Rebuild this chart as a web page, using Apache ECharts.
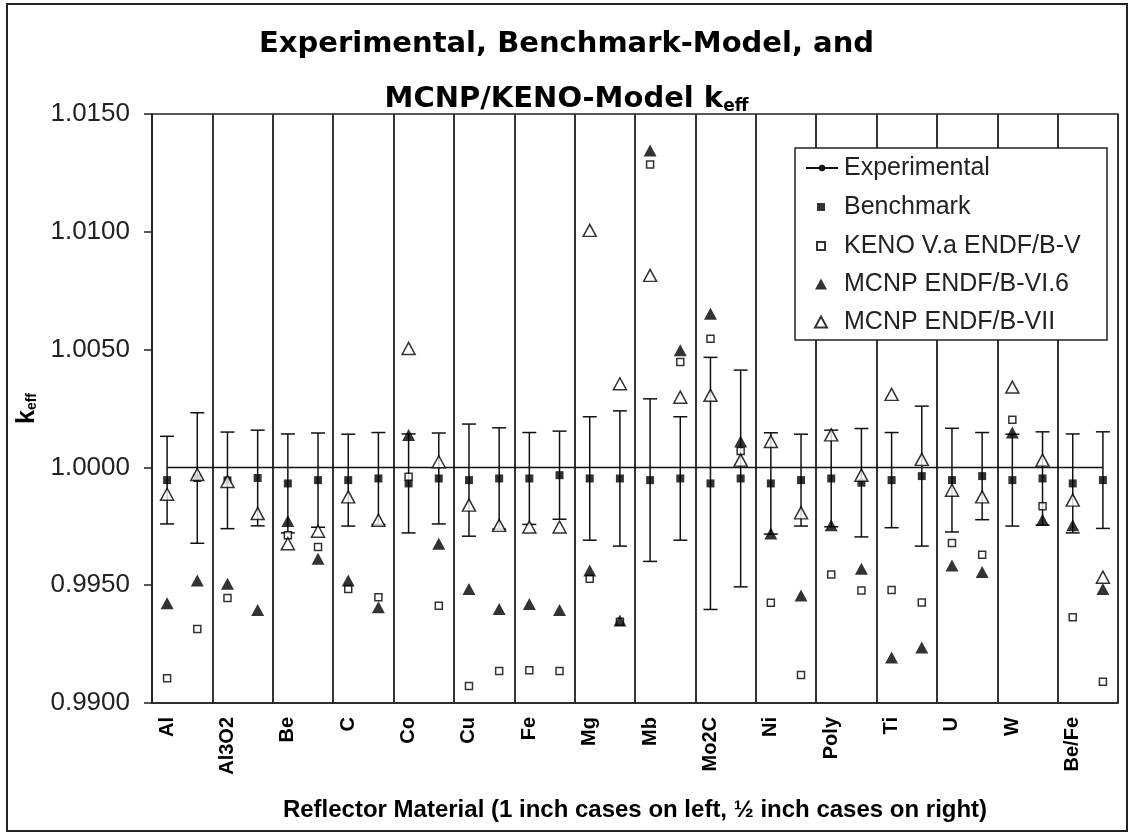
<!DOCTYPE html>
<html>
<head>
<meta charset="utf-8">
<script src="https://cdn.jsdelivr.net/npm/echarts@6/dist/echarts.min.js"></script>
<style>
  html, body { margin: 0; padding: 0; background: #fff; }
  #chart { width: 1133px; height: 836px; }
</style>
</head>
<body>
<div id="chart"></div>
<script>
/** 材料（每种两个算例：左 1 inch，右 ½ inch） */
const materials = ["Al", "Al3O2", "Be", "C", "Co", "Cu", "Fe", "Mg", "Mb", "Mo2C", "Ni", "Poly", "Ti", "U", "W", "Be/Fe"]

/** 32 个算例的 keff */
const experimental = [1, 1, 1, 1, 1, 1, 1, 1, 1, 1, 1, 1, 1, 1, 1, 1,
    1, 1, 1, 1, 1, 1, 1, 1, 1, 1, 1, 1, 1, 1, 1, 1]
const benchmark = [0.99946, 0.99955, 0.99945, 0.99955, 0.99932, 0.99946, 0.99946, 0.99953,
    0.99932, 0.99953, 0.99946, 0.99953, 0.99953, 0.99967, 0.99953, 0.99953,
    0.99946, 0.99953, 0.99932, 0.99953, 0.99932, 0.99946, 0.99953, 0.99935,
    0.99946, 0.99963, 0.99946, 0.99963, 0.99946, 0.99953, 0.99932, 0.99946]
const benchmarkErr = [0.00186, 0.00277, 0.00205, 0.00203, 0.00210, 0.00200, 0.00195, 0.00195,
    0.00210, 0.00193, 0.00238, 0.00215, 0.00195, 0.00187, 0.00262, 0.00287,
    0.00345, 0.00262, 0.00535, 0.00460, 0.00215, 0.00195, 0.00205, 0.00230,
    0.00202, 0.00297, 0.00220, 0.00185, 0.00195, 0.00198, 0.00210, 0.00205]
const keno = [0.99105, 0.99314, 0.99446, null, 0.99712, 0.99662, 0.99484, 0.99449,
    0.9996, 0.99413, 0.99072, 0.99136, 0.99139, 0.99136, 0.99527, 0.99345,
    1.01286, 1.00447, 1.00546, 1.0007, 0.99425, 0.99119, 0.99545, 0.99478,
    0.9948, 0.99427, 0.99679, 0.99629, 1.00202, 0.99835, 0.99364, 0.9909]
const mcnp6 = [0.99423, 0.9952, 0.99506, 0.99395, 0.99773, 0.99612, 0.9952, 0.99406,
    1.00138, 0.99676, 0.99484, 0.99399, 0.9942, 0.99395, 0.99562, 0.9935,
    1.01345, 1.00497, 1.00652, 1.0011, 0.99719, 0.99456, 0.99754, 0.9957,
    0.99193, 0.99236, 0.99584, 0.99556, 1.00148, 0.99778, 0.99754, 0.99484]
const mcnp7 = [0.99886, 0.9997, 0.9994, 0.99804, 0.99676, 0.99729, 0.99875, 0.99776,
    1.00505, 1.00024, 0.9984, 0.99754, 0.99747, 0.99747, 1.01006, 1.00355,
    1.00815, 1.00298, 1.00306, 1.00031, 1.0011, 0.99807, 1.00138, 0.99967,
    1.0031, 1.00034, 0.99903, 0.99875, 1.00341, 1.00031, 0.99861, 0.99534]

/** y 轴刻度 */
const yMin = 0.99, yMax = 1.015, yStep = 0.005

const FONT = "Liberation Sans"

// 每种材料只在第一个算例下标注
let cases = []
materials.forEach(m => { cases.push(m); cases.push("") })

let errData = benchmark.map((v, i) => [i, v, benchmarkErr[i]])

/** 误差棒：竖线 + 上下短横 */
function renderErrBar(params, api) {
    let x = api.value(0)
    let y = api.value(1)
    let e = api.value(2)
    let top = api.coord([x, y + e])
    let bot = api.coord([x, y - e])
    let cap = 7
    let style = { stroke: "#111", lineWidth: 1.5 }
    return {
        type: "group",
        children: [
            { type: "line", shape: { x1: top[0], y1: top[1], x2: bot[0], y2: bot[1] }, style: style },
            { type: "line", shape: { x1: top[0] - cap, y1: top[1], x2: top[0] + cap, y2: top[1] }, style: style },
            { type: "line", shape: { x1: bot[0] - cap, y1: bot[1], x2: bot[0] + cap, y2: bot[1] }, style: style }
        ]
    }
}

/** 图例（分成三组，方便控制图标大小） */
function legendGroup(names, top, left, w, h, gap, pad) {
    return {
        orient: "vertical",
        left: left,
        top: top,
        z: 30,
        padding: 0,
        itemGap: gap,
        itemWidth: w,
        itemHeight: h,
        textStyle: { fontFamily: FONT, fontSize: 25, color: "#222", lineHeight: 28, padding: [0, 0, 0, pad] },
        data: names
    }
}

let chart = echarts.init(document.getElementById("chart"))

let option = {
    backgroundColor: "#fff",
    animation: false,
    title: {
        left: "center",
        top: 12,
        text: "{t|Experimental, Benchmark-Model, and}\n{t|MCNP/KENO-Model k}{s|eff}",
        textStyle: {
            rich: {
                t: { fontFamily: "DejaVu Sans", fontWeight: "bold", fontSize: 29, color: "#000", lineHeight: 55 },
                s: { fontFamily: "DejaVu Sans", fontWeight: "bold", fontSize: 17, color: "#000", verticalAlign: "middle", padding: [14, 0, 0, 0] }
            }
        }
    },
    legend: [
        legendGroup(["Experimental"], 154, 805, 32, 8, 10, 1),
        legendGroup(["Benchmark", "KENO V.a ENDF/B-V"], 193, 816, 8, 8, 11, 14),
        legendGroup(["MCNP ENDF/B-VI.6", "MCNP ENDF/B-VII"], 270, 814, 12, 11, 10, 12)
    ],
    grid: {
        left: 152,
        right: 15,
        top: 114,
        bottom: 133,
        show: true,
        borderColor: "#222",
        borderWidth: 1.5
    },
    xAxis: {
        type: "category",
        data: cases,
        boundaryGap: true,
        axisLine: { lineStyle: { color: "#222", width: 1.5 } },
        axisTick: { interval: i => i % 2 === 0, length: 6, lineStyle: { color: "#222", width: 1.5 } },
        splitLine: { show: true, interval: i => i % 2 === 0, lineStyle: { color: "#333", width: 2 } },
        axisLabel: {
            interval: 0, rotate: 90, margin: 14,
            fontFamily: FONT, fontWeight: "bold", fontSize: 20, color: "#000"
        },
        name: "Reflector Material (1 inch cases on left, \u00bd inch cases on right)",
        nameLocation: "middle",
        nameGap: 95,
        nameTextStyle: { fontFamily: FONT, fontWeight: "bold", fontSize: 24, color: "#000" }
    },
    yAxis: {
        type: "value",
        min: yMin,
        max: yMax,
        interval: yStep,
        axisLine: { show: true, lineStyle: { color: "#222", width: 1.5 } },
        axisTick: { show: true, length: 8, lineStyle: { color: "#222", width: 1.5 } },
        splitLine: { show: false },
        axisLabel: {
            margin: 22, fontFamily: FONT, fontSize: 26, color: "#222",
            formatter: v => v.toFixed(4)
        },
        name: "{k|k}{s|eff}",
        nameLocation: "middle",
        nameGap: 106,
        nameRotate: 90,
        nameTextStyle: {
            rich: {
                k: { fontFamily: FONT, fontWeight: "bold", fontSize: 25, color: "#000", lineHeight: 30, verticalAlign: "bottom" },
                s: { fontFamily: FONT, fontWeight: "bold", fontSize: 14, color: "#000", lineHeight: 18, verticalAlign: "bottom" }
            }
        }
    },
    graphic: [
        {
            type: "rect",
            shape: { x: 7, y: 4, width: 1120, height: 827 },
            style: { fill: "none", stroke: "#222", lineWidth: 2 },
            silent: true
        },
        {
            type: "rect",
            shape: { x: 795, y: 148, width: 312, height: 192 },
            style: { fill: "#fff", stroke: "#222", lineWidth: 1.5 },
            silent: true,
            z: 20
        }
    ],
    series: [
        {
            name: "err",
            type: "custom",
            renderItem: renderErrBar,
            data: errData,
            z: 1
        },
        {
            name: "Experimental",
            type: "line",
            data: experimental,
            symbol: "none",
            lineStyle: { color: "#111", width: 1.5 },
            itemStyle: { color: "#111" },
            z: 2
        },
        {
            name: "Benchmark",
            type: "scatter",
            data: benchmark,
            symbol: "rect",
            symbolSize: 8,
            itemStyle: { color: "#000" },
            z: 3
        },
        {
            name: "KENO V.a ENDF/B-V",
            type: "scatter",
            data: keno,
            symbol: "rect",
            symbolSize: 7,
            itemStyle: { color: "#fff", borderColor: "#000", borderWidth: 1.5 },
            z: 4
        },
        {
            name: "MCNP ENDF/B-VI.6",
            type: "scatter",
            data: mcnp6,
            symbol: "triangle",
            symbolSize: [13, 12],
            itemStyle: { color: "#000" },
            z: 5
        },
        {
            name: "MCNP ENDF/B-VII",
            type: "scatter",
            data: mcnp7,
            symbol: "triangle",
            symbolSize: [13, 12],
            itemStyle: { color: "#fff", borderColor: "#000", borderWidth: 1.5 },
            z: 6
        }
    ]
}

chart.setOption(option)
</script>
</body>
</html>
